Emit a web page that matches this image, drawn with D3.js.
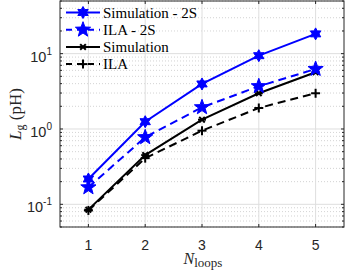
<!doctype html>
<html>
<head>
<script src="https://d3js.org/d3.v7.min.js"></script>
<style>
  body { margin: 0; background: #fff; }
  .serif { font-family: 'Liberation Serif', 'DejaVu Serif', serif; }
  .sans { font-family: 'Liberation Sans', Arial, sans-serif; }
</style>
</head>
<body>
<svg width="346" height="276"></svg>
<script>
    var loops = [1, 2, 3, 4, 5];
    var sim2S = [0.217, 1.25, 3.96, 9.4, 18.3];
    var ila2S = [0.168, 0.776, 1.94, 3.69, 6.26];
    var sim = [0.085, 0.45, 1.33, 2.98, 5.66];
    var ila = [0.083, 0.41, 0.95, 1.9, 2.98];
    var xTicks = [1, 2, 3, 4, 5];
    var yTicks = [0.1, 1, 10];

    var series = [
        { name: "Simulation - 2S", values: sim2S, color: "#0000ff", dash: null, marker: "hex" },
        { name: "ILA - 2S", values: ila2S, color: "#0000ff", dash: "8,5", marker: "pent" },
        { name: "Simulation", values: sim, color: "#000000", dash: null, marker: "ast" },
        { name: "ILA", values: ila, color: "#000000", dash: "8,5", marker: "plus" }
    ];

    var svg = d3.select("svg"),
        pLeft = 60, pRight = 344, pTop = 1, pBottom = 227;

    var x = d3.scaleLinear().domain([0.5, 5.5]).range([pLeft, pRight]);
    var y = d3.scaleLog().domain([0.05, 50]).range([pBottom, pTop]);

    var axisColor = "#262626";

    // minor grid
    var minor = [];
    [0.01, 0.1, 1, 10].forEach(function(d) {
        for (var k = 2; k <= 9; k++) {
            var v = d * k;
            if (v >= 0.05 && v <= 50) minor.push(v);
        }
    });

    svg.append("g").selectAll("line").data(minor).enter().append("line")
       .attr("x1", pLeft).attr("x2", pRight)
       .attr("y1", function(d) { return y(d); }).attr("y2", function(d) { return y(d); })
       .attr("stroke", "#c8c8c8").attr("stroke-width", 0.8).attr("stroke-dasharray", "1,2");

    // major grid
    svg.append("g").selectAll("line").data(yTicks).enter().append("line")
       .attr("x1", pLeft).attr("x2", pRight)
       .attr("y1", function(d) { return y(d); }).attr("y2", function(d) { return y(d); })
       .attr("stroke", "#dedede").attr("stroke-width", 1);
    svg.append("g").selectAll("line").data(xTicks).enter().append("line")
       .attr("y1", pTop).attr("y2", pBottom)
       .attr("x1", function(d) { return x(d); }).attr("x2", function(d) { return x(d); })
       .attr("stroke", "#dedede").attr("stroke-width", 1);

    // star path helper
    function starPath(points, outer, inner) {
        var p = [];
        for (var i = 0; i < points * 2; i++) {
            var r = i % 2 === 0 ? outer : inner;
            var a = Math.PI * i / points - Math.PI / 2;
            p.push([r * Math.cos(a), r * Math.sin(a)]);
        }
        return "M" + p.map(function(q) { return q[0].toFixed(2) + "," + q[1].toFixed(2); }).join("L") + "Z";
    }

    function drawMarker(g, type, color, cx, cy) {
        if (type === "hex") {
            g.append("path").attr("d", starPath(6, 6, 3.4))
             .attr("transform", "translate(" + cx + "," + cy + ")")
             .attr("fill", color).attr("stroke", color).attr("stroke-width", 1);
        } else if (type === "pent") {
            g.append("path").attr("d", starPath(5, 8, 3.3))
             .attr("transform", "translate(" + cx + "," + cy + ")")
             .attr("fill", color).attr("stroke", color).attr("stroke-width", 1);
        } else if (type === "ast") {
            var s = 4;
            var gg = g.append("g").attr("transform", "translate(" + cx + "," + cy + ")")
                      .attr("stroke", color).attr("stroke-width", 2);
            gg.append("line").attr("x1", -s).attr("x2", s).attr("y1", 0).attr("y2", 0);
            gg.append("line").attr("x1", -s * 0.7).attr("x2", s * 0.7).attr("y1", -s * 0.7).attr("y2", s * 0.7);
            gg.append("line").attr("x1", -s * 0.7).attr("x2", s * 0.7).attr("y1", s * 0.7).attr("y2", -s * 0.7);
        } else {
            var s2 = 4.5;
            var g2 = g.append("g").attr("transform", "translate(" + cx + "," + cy + ")")
                      .attr("stroke", color).attr("stroke-width", 2);
            g2.append("line").attr("x1", -s2).attr("x2", s2).attr("y1", 0).attr("y2", 0);
            g2.append("line").attr("x1", 0).attr("x2", 0).attr("y1", -s2).attr("y2", s2);
        }
    }

    var line = d3.line()
        .x(function(d, i) { return x(loops[i]); })
        .y(function(d) { return y(d); });

    var plot = svg.append("g");
    series.slice().reverse().forEach(function(s) {
        plot.append("path")
            .attr("d", line(s.values))
            .attr("fill", "none")
            .attr("stroke", s.color)
            .attr("stroke-width", 2)
            .attr("stroke-dasharray", s.dash);
        s.values.forEach(function(v, i) {
            drawMarker(plot, s.marker, s.color, x(loops[i]), y(v));
        });
    });

    // axes box
    svg.append("rect")
       .attr("x", pLeft).attr("y", pTop)
       .attr("width", pRight - pLeft).attr("height", pBottom - pTop)
       .attr("fill", "none").attr("stroke", axisColor).attr("stroke-width", 1);

    // ticks (inward)
    var tk = svg.append("g").attr("stroke", axisColor).attr("stroke-width", 1);
    xTicks.forEach(function(d) {
        tk.append("line").attr("x1", x(d)).attr("x2", x(d)).attr("y1", pBottom).attr("y2", pBottom - 3);
        tk.append("line").attr("x1", x(d)).attr("x2", x(d)).attr("y1", pTop).attr("y2", pTop + 3);
    });
    yTicks.forEach(function(d) {
        tk.append("line").attr("x1", pLeft).attr("x2", pLeft + 3).attr("y1", y(d)).attr("y2", y(d));
        tk.append("line").attr("x1", pRight).attr("x2", pRight - 3).attr("y1", y(d)).attr("y2", y(d));
    });
    minor.forEach(function(d) {
        tk.append("line").attr("x1", pLeft).attr("x2", pLeft + 2).attr("y1", y(d)).attr("y2", y(d));
        tk.append("line").attr("x1", pRight).attr("x2", pRight - 2).attr("y1", y(d)).attr("y2", y(d));
    });

    // tick labels
    svg.append("g").selectAll("text").data(xTicks).enter().append("text")
       .attr("class", "sans")
       .attr("x", function(d) { return x(d); })
       .attr("y", 250)
       .attr("text-anchor", "middle")
       .attr("font-size", "14px")
       .attr("fill", axisColor)
       .text(function(d) { return d; });

    var yl = svg.append("g").selectAll("text").data(yTicks).enter().append("text")
       .attr("class", "sans")
       .attr("x", 52)
       .attr("y", function(d) { return y(d) + 8; })
       .attr("text-anchor", "end")
       .attr("font-size", "14.5px")
       .attr("fill", axisColor);
    yl.append("tspan").text("10");
    yl.append("tspan").attr("dy", -7).attr("font-size", "10px")
      .text(function(d) { return Math.round(Math.log10(d)) < 0 ? "-1" : Math.round(Math.log10(d)); });

    // axis labels
    var xl = svg.append("text")
       .attr("class", "serif")
       .attr("x", 203).attr("y", 264)
       .attr("text-anchor", "middle")
       .attr("font-size", "16px")
       .attr("fill", axisColor);
    xl.append("tspan").attr("font-style", "italic").text("N");
    xl.append("tspan").attr("font-size", "13px").attr("dy", 3).text("loops");

    var ylab = svg.append("text")
       .attr("class", "serif")
       .attr("transform", "translate(21,114) rotate(-90)")
       .attr("text-anchor", "middle")
       .attr("font-size", "17px")
       .attr("fill", axisColor);
    ylab.append("tspan").attr("font-style", "italic").text("L");
    ylab.append("tspan").attr("font-size", "12px").attr("dy", 3).text("g");
    ylab.append("tspan").attr("dy", -3).text(" (pH)");

    // legend
    var leg = svg.append("g");
    series.forEach(function(s, i) {
        var ly = 12.5 + i * 17.2;
        leg.append("line")
           .attr("x1", 66).attr("x2", 100).attr("y1", ly).attr("y2", ly)
           .attr("stroke", s.color).attr("stroke-width", 2)
           .attr("stroke-dasharray", s.dash ? "6,5" : null);
        drawMarker(leg, s.marker, s.color, 83, ly);
        leg.append("text")
           .attr("class", "serif")
           .attr("x", 103).attr("y", ly + 5)
           .attr("font-size", "15px")
           .attr("fill", "#000")
           .text(s.name);
    });
</script>
</body>
</html>
